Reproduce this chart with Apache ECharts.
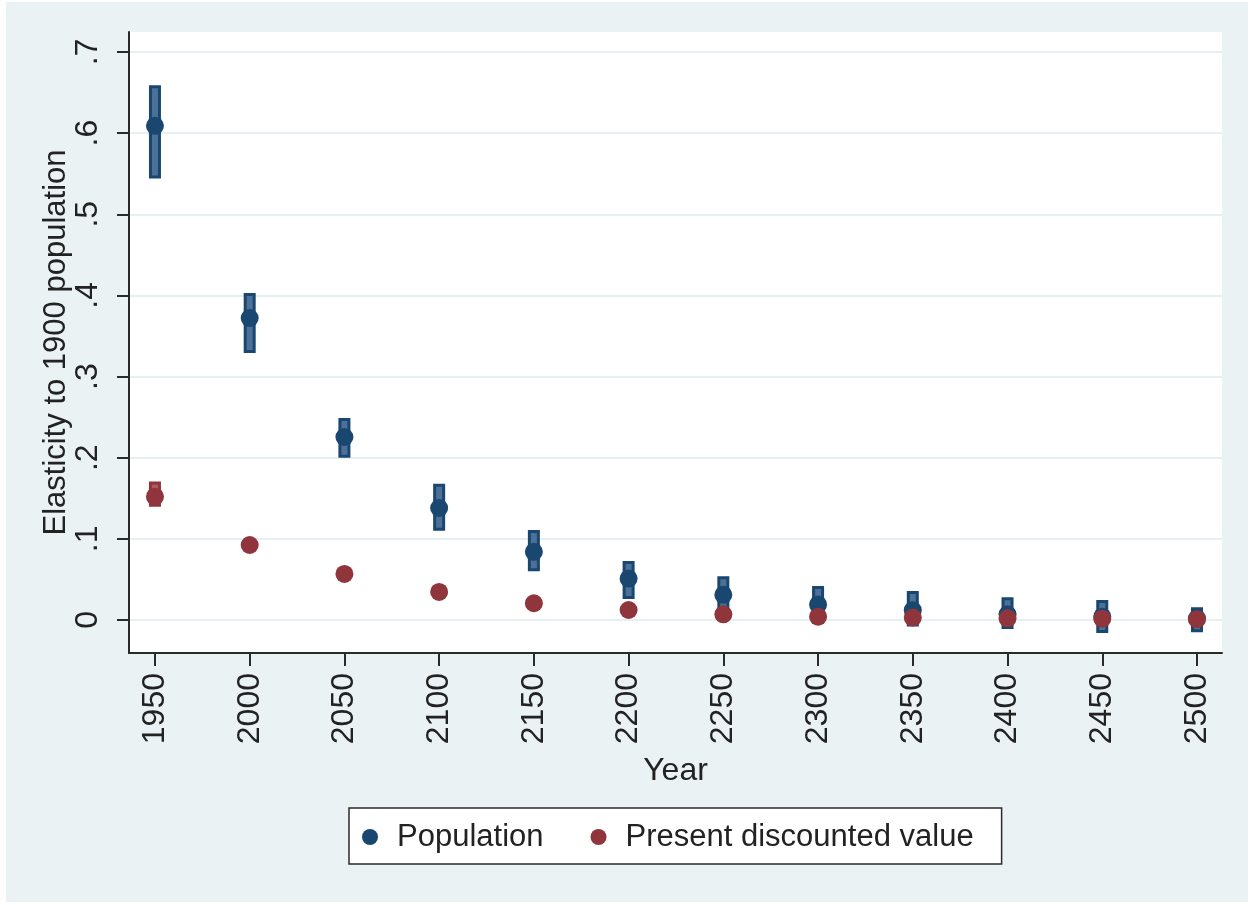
<!DOCTYPE html>
<html>
<head>
<meta charset="utf-8">
<script src="https://cdn.jsdelivr.net/npm/echarts@6/dist/echarts.min.js"></script>
<style>
  html, body { margin: 0; padding: 0; background: #ffffff; }
  #frame { position: absolute; left: 6px; top: 2px; width: 1242px; height: 900px; background: #eaf2f3; }
  #chart { position: absolute; left: 0; top: 0; width: 1252px; height: 905px; }
</style>
</head>
<body>
<div id="frame"></div>
<div id="chart"></div>
<script>
// Years at which the elasticity is estimated
const years = [1950, 2000, 2050, 2100, 2150, 2200, 2250, 2300, 2350, 2400, 2450, 2500];

// Population: point estimate and confidence band
const popEst = [0.609, 0.372, 0.2255, 0.138, 0.084, 0.051, 0.031, 0.019, 0.012, 0.007, 0.004, 0.002];
const popLo  = [0.544, 0.329, 0.200, 0.110, 0.060, 0.026, 0.008, -0.005, -0.008, -0.011, -0.016, -0.015];
const popHi  = [0.659, 0.403, 0.249, 0.168, 0.111, 0.0727, 0.054, 0.042, 0.0357, 0.028, 0.0246, 0.0156];

// Present discounted value: point estimate and confidence band
const pdvEst = [0.152, 0.0924, 0.0567, 0.0345, 0.0206, 0.0123, 0.007, 0.004, 0.003, 0.002, 0.0016, 0.001];
const pdvLo  = [0.1396, 0.088, 0.053, 0.032, 0.018, 0.010, 0.005, 0.002, 0.001, 0.000, 0.000, -0.001];
const pdvHi  = [0.1705, 0.097, 0.060, 0.037, 0.023, 0.0145, 0.009, 0.006, 0.005, 0.004, 0.003, 0.003];

// Axis ticks
const xTicks = [1950, 2000, 2050, 2100, 2150, 2200, 2250, 2300, 2350, 2400, 2450, 2500];
const yTicks = [0, 0.1, 0.2, 0.3, 0.4, 0.5, 0.6, 0.7];

const NAVY = '#1a476f', NAVY_FILL = '#4d7196';
const MAROON = '#90353b', MAROON_FILL = '#aa5a60';
const FONT = '"Liberation Sans", Arial, sans-serif';
const TEXT = '#222222';

function bandData(lo, hi) {
  return years.map((y, i) => [y, lo[i], hi[i]]);
}

// Confidence band drawn as an outlined bar centred on each year
function bandRenderer(stroke, fill) {
  return function (params, api) {
    const x = api.value(0);
    const pLo = api.coord([x, api.value(1)]);
    const pHi = api.coord([x, api.value(2)]);
    const lw = 3, half = 6;
    const h = Math.max(pLo[1] - pHi[1] - lw, 0.5);
    return {
      type: 'rect',
      shape: { x: pLo[0] - half + lw / 2, y: pHi[1] + lw / 2, width: 2 * half - lw, height: h },
      style: { fill: fill, stroke: stroke, lineWidth: lw }
    };
  };
}

function yLabel(v) {
  if (Math.abs(v) < 1e-9) return '0';
  return v.toFixed(1).replace(/^0/, '');
}

const chart = echarts.init(document.getElementById('chart'), null, { renderer: 'canvas' });

chart.setOption({
  backgroundColor: 'transparent',
  animation: false,
  grid: {
    left: 129, top: 32, right: 30, bottom: 252,
    show: true, backgroundColor: '#ffffff', borderWidth: 0
  },
  xAxis: {
    type: 'value',
    min: 1936.3, max: 2513.2,
    name: 'Year',
    nameLocation: 'middle',
    nameGap: 102,
    nameMoveOverlap: false,
    nameTextStyle: { fontFamily: FONT, fontSize: 32, color: TEXT },
    axisLine: { show: true, onZero: false, lineStyle: { color: '#2a2a2a', width: 2 } },
    axisTick: { show: true, length: 13, customValues: xTicks, lineStyle: { color: '#2a2a2a', width: 2 } },
    axisLabel: {
      customValues: xTicks, rotate: 90, margin: 20,
      fontFamily: FONT, fontSize: 32, color: TEXT,
      formatter: v => String(v)
    },
    splitLine: { show: false }
  },
  yAxis: {
    type: 'value',
    min: -0.0407, max: 0.7246,
    name: 'Elasticity to 1900 population',
    nameLocation: 'middle',
    nameRotate: 90,
    nameGap: 57,
    nameMoveOverlap: false,
    nameTextStyle: { fontFamily: FONT, fontSize: 31, color: TEXT },
    axisLine: { show: true, onZero: false, lineStyle: { color: '#2a2a2a', width: 2 } },
    axisTick: { show: true, length: 12, customValues: yTicks, lineStyle: { color: '#2a2a2a', width: 2 } },
    axisLabel: {
      customValues: yTicks, rotate: 90, margin: 25,
      fontFamily: FONT, fontSize: 32, color: TEXT,
      formatter: yLabel
    },
    splitLine: { show: true, lineStyle: { color: '#e6eff1', width: 2 } }
  },
  legend: {
    left: 349, top: 808,
    orient: 'horizontal',
    padding: [11, 28, 9, 13],
    itemGap: 47,
    itemWidth: 16, itemHeight: 16,
    icon: 'circle',
    backgroundColor: '#ffffff',
    borderColor: '#2a2a2a', borderWidth: 1.5, borderRadius: 0,
    textStyle: { fontFamily: FONT, fontSize: 31, color: TEXT, padding: [0, 0, 0, 14], lineHeight: 36 },
    data: ['Population', 'Present discounted value']
  },
  series: [
    {
      name: 'popBand', type: 'custom', renderItem: bandRenderer(NAVY, NAVY_FILL),
      data: bandData(popLo, popHi), encode: { x: 0, y: [1, 2] }, z: 2, silent: true
    },
    {
      name: 'pdvBand', type: 'custom', renderItem: bandRenderer(MAROON, MAROON_FILL),
      data: bandData(pdvLo, pdvHi), encode: { x: 0, y: [1, 2] }, z: 3, silent: true
    },
    {
      name: 'Population', type: 'scatter', symbol: 'circle', symbolSize: 18,
      itemStyle: { color: NAVY, opacity: 1 },
      data: years.map((y, i) => [y, popEst[i]]), z: 4
    },
    {
      name: 'Present discounted value', type: 'scatter', symbol: 'circle', symbolSize: 18,
      itemStyle: { color: MAROON, opacity: 1 },
      data: years.map((y, i) => [y, pdvEst[i]]), z: 5
    }
  ]
});
</script>
</body>
</html>
